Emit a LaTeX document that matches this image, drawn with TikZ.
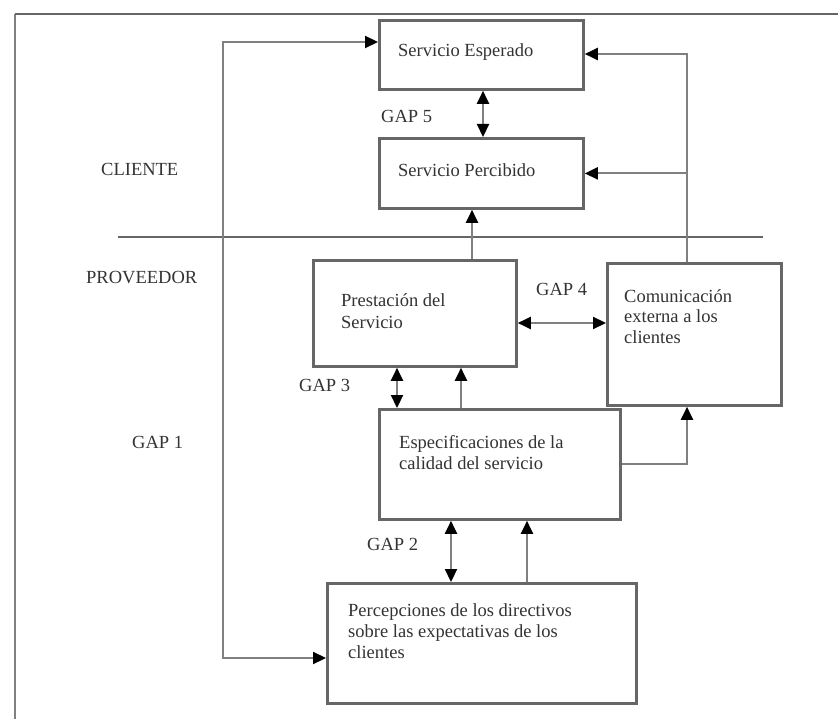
\documentclass[tikz,border=0pt]{standalone}
\usepackage{fontspec}
\setmainfont{Liberation Serif}
\usetikzlibrary{arrows.meta}
\definecolor{boxgray}{HTML}{666666}
\definecolor{linegray}{HTML}{808080}
\definecolor{txtgray}{HTML}{333333}
\begin{document}
\begin{tikzpicture}[x=1pt,y=-1pt,
  box/.style={draw=boxgray, line width=2.8pt, fill=white, inner sep=0pt, anchor=north west},
  conn/.style={draw=linegray, line width=2.2pt},
  tipend/.style={-{Triangle[length=13pt,width=12pt,color=black]}},
  tipboth/.style={{Triangle[length=13pt,width=12pt,color=black]}-{Triangle[length=13pt,width=12pt,color=black]}},
  lbl/.style={font=\fontsize{18.5}{21}\selectfont, text=txtgray, inner sep=0pt, anchor=base west, align=left},
]
\useasboundingbox (0,0) rectangle (838,719);
% frame
\coordinate (fA) at (15,719);
\coordinate (fB) at (15,14);
\coordinate (fC) at (838,14);
\draw[draw=linegray, line width=2.8pt] (fA) -- (fB);
\draw[draw=boxgray, line width=2.8pt] (fB) -- (fC);
% divider
\coordinate (dA) at (118,237);
\coordinate (dB) at (763,237);
\draw[draw=boxgray, line width=1.8pt] (dA) -- (dB);

% boxes
\node[box, minimum width=204pt, minimum height=69pt] (se) at (378,19) {};
\node[box, minimum width=204pt, minimum height=70pt] (sp) at (378,137) {};
\node[box, minimum width=203pt, minimum height=106pt] (ps) at (312,259) {};
\node[box, minimum width=174pt, minimum height=142pt] (cm) at (606,262) {};
\node[box, minimum width=241pt, minimum height=110pt] (es) at (378,408) {};
\node[box, minimum width=309pt, minimum height=120pt] (pd) at (326,582) {};

% box texts (base = baseline of last line)
\node[lbl] (seT) at (398,57) {Servicio Esperado};
\node[lbl] (spT) at (398,177) {Servicio Percibido};
\node[lbl] (psT) at (341,328) {Prestación del\\Servicio};
\node[lbl, font=\fontsize{18.5}{20.2}\selectfont] (cmT) at (624,343) {Comunicación\\externa a los\\clientes};
\node[lbl] (esT) at (399,469) {Especificaciones de la\\calidad del servicio};
\node[lbl] (pdT) at (348,658) {Percepciones de los directivos\\sobre las expectativas de los\\clientes};

% side labels
\node[lbl] (cliente) at (101,176) {CLIENTE};
\node[lbl] (prov) at (86,284) {PROVEEDOR};
\node[lbl] (g1) at (132,448) {GAP 1};
\node[lbl] (g2) at (367,550) {GAP 2};
\node[lbl] (g3) at (299,391) {GAP 3};
\node[lbl] (g4) at (536,296) {GAP 4};
\node[lbl] (g5) at (381,123) {GAP 5};

% guide coordinates
\coordinate (L1) at (223,42);
\coordinate (L2) at (223,658);
\coordinate (R1) at (687,54);
\coordinate (R2) at (687,464);
\coordinate (x472) at (472,0);
\coordinate (x483) at (483,0);
\coordinate (y323) at (0,323);
\coordinate (x397) at (397,0);
\coordinate (x461) at (461,0);
\coordinate (x451) at (451,0);
\coordinate (x527) at (527,0);

% connectors
\draw[conn, tipboth] (se.west |- L1) -- (L1) -- (L2) -- (pd.west |- L2);
\draw[conn, tipend] (R1 |- cm.north) -- (R1) -- (se.east |- R1);
\draw[conn, tipend] (sp.east -| R1) -- (sp.east);
\draw[conn, tipend] (ps.north -| x472) -- (sp.south -| x472);
\draw[conn, tipboth] (se.south -| x483) -- (sp.north -| x483);
\draw[conn, tipboth] (ps.east |- y323) -- (cm.west |- y323);
\draw[conn, tipboth] (ps.south -| x397) -- (es.north -| x397);
\draw[conn, tipend] (es.north -| x461) -- (ps.south -| x461);
\draw[conn, tipend] (es.east |- R2) -- (R2) -- (cm.south -| R2);
\draw[conn, tipboth] (es.south -| x451) -- (pd.north -| x451);
\draw[conn, tipend] (pd.north -| x527) -- (es.south -| x527);
\end{tikzpicture}
\end{document}
